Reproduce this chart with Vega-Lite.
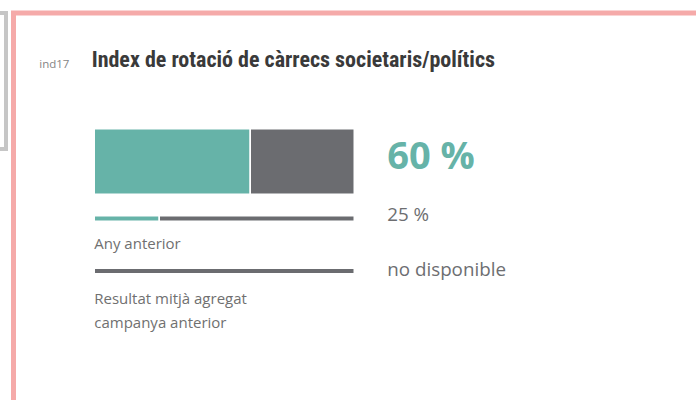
{
  "$schema": "https://vega.github.io/schema/vega-lite/v6.json",
  "autosize": {"type": "pad"},
  "padding": {"left": -16, "top": 10, "right": 0, "bottom": 0},
  "background": "white",
  "bounds": "flush",
  "spacing": 7.5,
  "title": {
    "text": "Index de rotació de càrrecs societaris/polítics",
    "anchor": "start",
    "frame": "group",
    "font": "Roboto Condensed, DejaVu Sans Condensed, sans-serif",
    "fontSize": 22,
    "fontWeight": "bold",
    "color": "#3a3a3a",
    "baseline": "alphabetic",
    "offset": 0,
    "dx": 105.7,
    "dy": 78
  },
  "datasets": {
    "barres": [
      {"serie": "actual", "tram": "valor", "pct": 60},
      {"serie": "actual", "tram": "resta", "pct": 40},
      {"serie": "anterior", "tram": "valor", "pct": 25},
      {"serie": "anterior", "tram": "resta", "pct": 75},
      {"serie": "agregat", "tram": "resta", "pct": 100}
    ],
    "series": [
      {"serie": "actual", "valor": "60 %", "etiqueta": ""},
      {"serie": "anterior", "valor": "25 %", "etiqueta": "Any anterior"},
      {"serie": "agregat", "valor": "no disponible", "etiqueta": "Resultat mitjà agregat\ncampanya anterior"}
    ]
  },
  "hconcat": [
    {
      "width": 20,
      "height": 136,
      "view": {"stroke": "#c6c6c6", "strokeWidth": 4, "fill": null},
      "data": {"values": []},
      "mark": "rect"
    },
    {
      "width": 700,
      "height": 400,
      "view": {"stroke": "#f5aaa9", "strokeWidth": 5, "fill": null},
      "title": {
        "text": "ind17",
        "anchor": "start",
        "frame": "group",
        "font": "Open Sans",
        "fontSize": 11.5,
        "fontWeight": "normal",
        "color": "#858585",
        "baseline": "alphabetic",
        "offset": 0,
        "dx": 25.8,
        "dy": 66
      },
      "encoding": {
        "y": {
          "field": "serie",
          "type": "nominal",
          "scale": {"type": "point", "domain": ["actual", "anterior", "agregat"], "range": [148.5, 258], "padding": 0},
          "axis": null
        }
      },
      "layer": [
        {
          "data": {"name": "barres"},
          "transform": [{"filter": "datum.serie === 'actual'"}],
          "mark": {"type": "bar", "height": 65.5, "stroke": "white", "strokeWidth": 1.5},
          "encoding": {
            "x": {"field": "pct", "type": "quantitative", "stack": "zero", "scale": {"domain": [0, 100], "range": [80.75, 340.75], "nice": false, "zero": true}, "axis": null},
            "color": {"field": "tram", "type": "nominal", "scale": {"domain": ["valor", "resta"], "range": ["#66b3a8", "#6b6c70"]}, "legend": null},
            "order": {"field": "tram", "sort": "descending"}
          }
        },
        {
          "data": {"name": "barres"},
          "transform": [{"filter": "datum.serie === 'anterior'"}],
          "mark": {"type": "bar", "height": 5.5, "yOffset": 2.25, "stroke": "white", "strokeWidth": 1.5},
          "encoding": {
            "x": {"field": "pct", "type": "quantitative", "stack": "zero", "axis": null},
            "color": {"field": "tram", "type": "nominal", "legend": null},
            "order": {"field": "tram", "sort": "descending"}
          }
        },
        {
          "data": {"name": "barres"},
          "transform": [{"filter": "datum.serie === 'agregat'"}],
          "mark": {"type": "bar", "height": 5.5, "stroke": "white", "strokeWidth": 1.5},
          "encoding": {
            "x": {"field": "pct", "type": "quantitative", "stack": "zero", "axis": null},
            "color": {"field": "tram", "type": "nominal", "legend": null},
            "order": {"field": "tram", "sort": "descending"}
          }
        },
        {
          "data": {"name": "series"},
          "transform": [{"filter": "datum.serie === 'actual'"}],
          "mark": {"type": "text", "align": "left", "baseline": "alphabetic", "dx": 33, "dy": 7.5, "font": "Open Sans", "fontSize": 38, "fontWeight": "bold", "color": "#66b3a8"},
          "encoding": {
            "x": {"datum": 100, "type": "quantitative"},
            "text": {"field": "valor", "type": "nominal"}
          }
        },
        {
          "data": {"name": "series"},
          "transform": [{"filter": "datum.serie !== 'actual'"}],
          "mark": {"type": "text", "align": "left", "baseline": "alphabetic", "dx": 33, "dy": 5, "font": "Open Sans", "fontSize": 18.8, "color": "#6d6e71"},
          "encoding": {
            "x": {"datum": 100, "type": "quantitative"},
            "text": {"field": "valor", "type": "nominal"}
          }
        },
        {
          "data": {"name": "series"},
          "transform": [{"filter": "datum.serie !== 'actual'"}],
          "mark": {"type": "text", "align": "left", "baseline": "alphabetic", "dx": 0, "dy": 32.5, "lineBreak": "\n", "lineHeight": 24, "font": "Open Sans", "fontSize": 15, "color": "#707070"},
          "encoding": {
            "x": {"datum": 0, "type": "quantitative"},
            "text": {"field": "etiqueta", "type": "nominal"}
          }
        }
      ]
    }
  ],
  "config": {
    "view": {"stroke": null}
  }
}
